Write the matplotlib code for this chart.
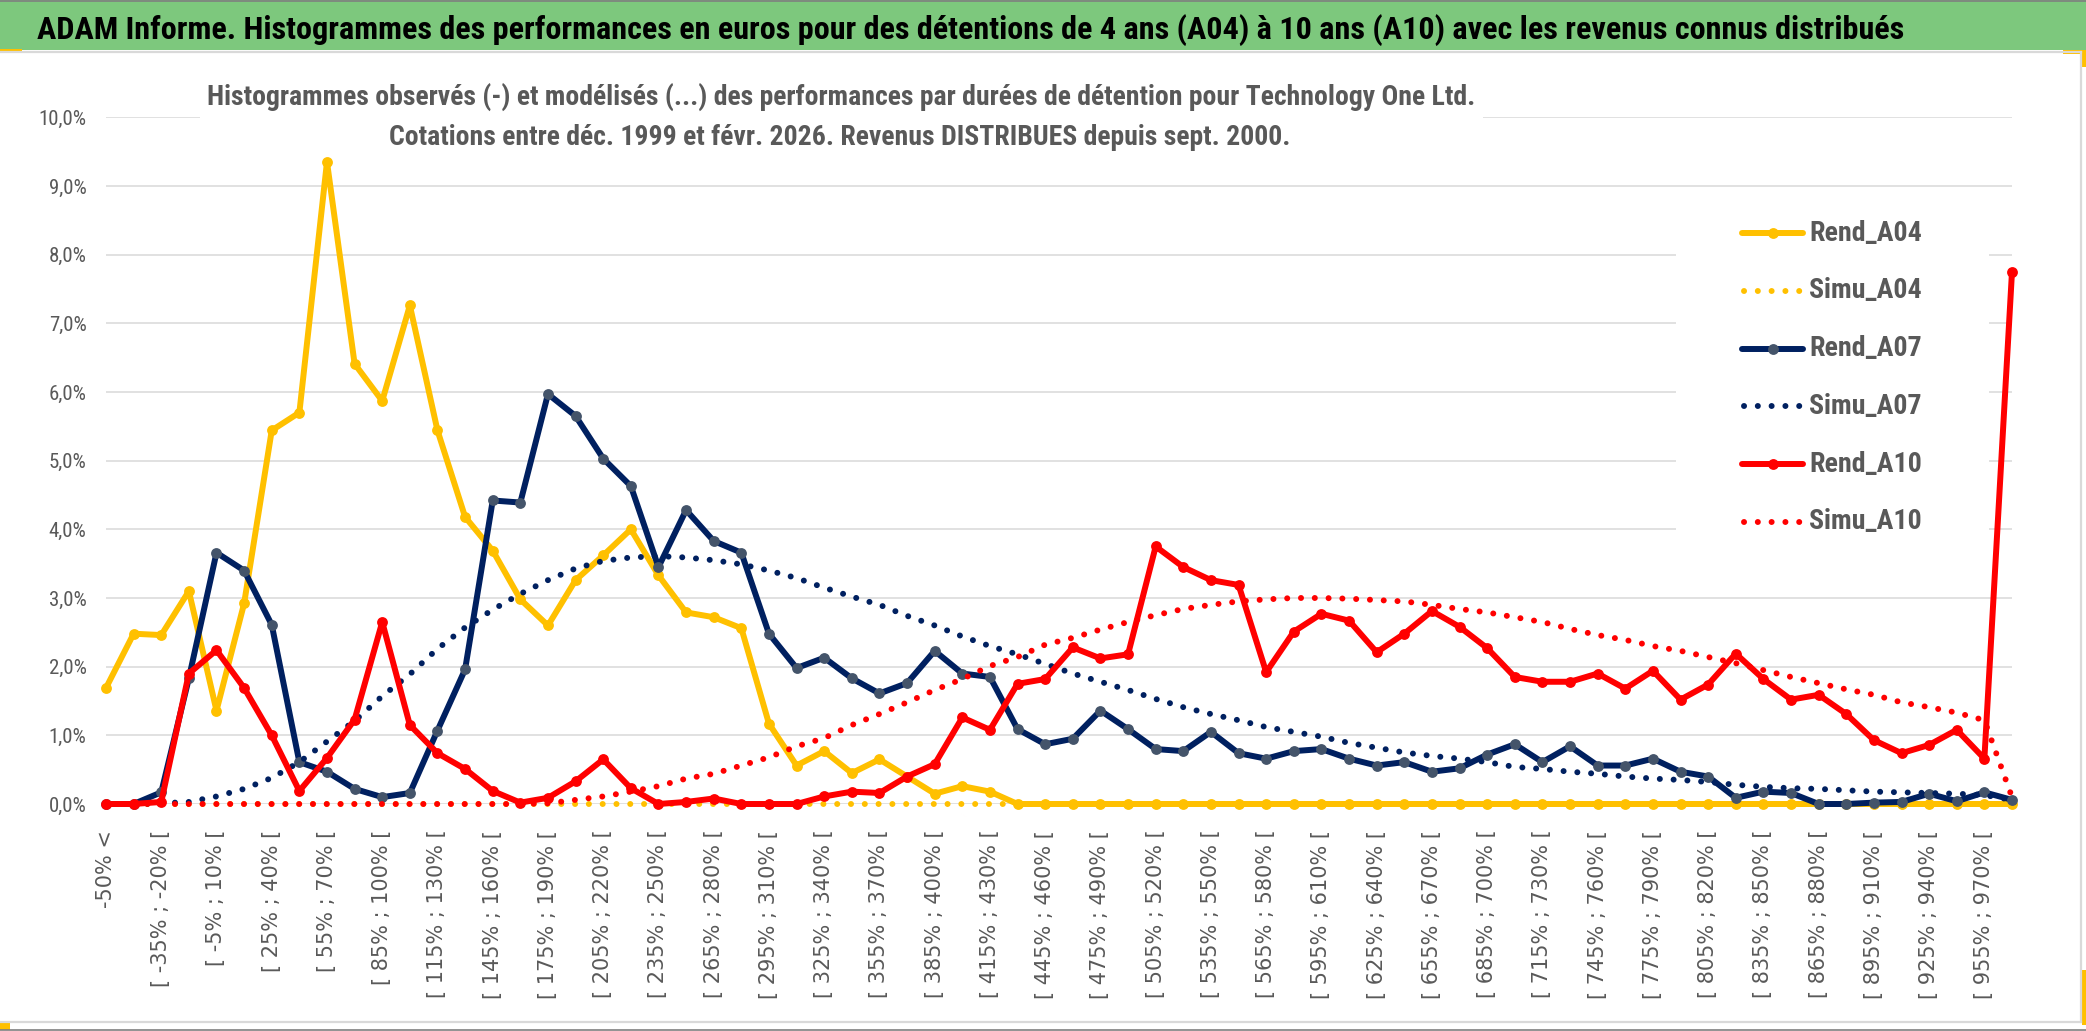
import matplotlib
matplotlib.use("Agg")
import matplotlib.pyplot as plt
from matplotlib.lines import Line2D
from matplotlib.patches import Rectangle

W, H, DPI = 2086, 1031, 100

# ---- data (% of observations per performance bin) ----
bin_lows = list(range(-50, 985, 15))          # lower edges of the 15%-wide bins
categories = ["-50% <"] + [f"[ {lo}% ; {lo + 15}% [" for lo in bin_lows]

rend_a04 = [1.69, 2.48, 2.46, 3.10, 1.36, 2.92, 5.44, 5.70, 9.35, 6.41,
            5.87, 7.26, 5.44, 4.18, 3.69, 2.98, 2.60, 3.26, 3.62, 4.00,
            3.33, 2.79, 2.72, 2.56, 1.17, 0.56, 0.77, 0.45, 0.65, 0.40,
            0.15, 0.26, 0.18, 0, 0, 0, 0, 0, 0, 0,
            0, 0, 0, 0, 0, 0, 0, 0, 0, 0,
            0, 0, 0, 0, 0, 0, 0, 0, 0, 0,
            0, 0, 0, 0, 0, 0, 0, 0, 0, 0]
simu_a04 = [0] * 70
rend_a07 = [0, 0, 0.17, 1.83, 3.66, 3.40, 2.61, 0.61, 0.47, 0.22,
            0.10, 0.16, 1.07, 1.96, 4.42, 4.39, 5.97, 5.65, 5.03, 4.63,
            3.45, 4.28, 3.83, 3.66, 2.48, 1.98, 2.13, 1.83, 1.61, 1.76,
            2.23, 1.90, 1.85, 1.09, 0.87, 0.95, 1.36, 1.09, 0.80, 0.77,
            1.05, 0.74, 0.66, 0.77, 0.80, 0.66, 0.56, 0.61, 0.47, 0.52,
            0.72, 0.87, 0.61, 0.84, 0.56, 0.56, 0.66, 0.47, 0.40, 0.09,
            0.18, 0.16, 0.0, 0.0, 0.02, 0.03, 0.15, 0.04, 0.17, 0.06]
simu_a07 = [0, 0, 0.01, 0.03, 0.11, 0.22, 0.38, 0.61, 0.91, 1.21,
            1.57, 1.89, 2.26, 2.57, 2.83, 3.06, 3.26, 3.43, 3.54, 3.59,
            3.61, 3.59, 3.55, 3.49, 3.40, 3.29, 3.15, 3.02, 2.90, 2.74,
            2.60, 2.44, 2.30, 2.18, 2.04, 1.90, 1.78, 1.66, 1.53, 1.41,
            1.31, 1.22, 1.12, 1.05, 0.98, 0.89, 0.82, 0.75, 0.70, 0.66,
            0.61, 0.54, 0.51, 0.47, 0.44, 0.40, 0.37, 0.35, 0.32, 0.28,
            0.25, 0.23, 0.22, 0.20, 0.18, 0.17, 0.16, 0.15, 0.13, 0.06]
rend_a10 = [0, 0, 0.03, 1.90, 2.24, 1.69, 1.00, 0.19, 0.67, 1.23,
            2.65, 1.15, 0.74, 0.51, 0.19, 0.02, 0.09, 0.33, 0.65, 0.23,
            0.0, 0.03, 0.08, 0.0, 0.0, 0.0, 0.11, 0.18, 0.16, 0.40,
            0.58, 1.26, 1.08, 1.75, 1.82, 2.28, 2.12, 2.18, 3.75, 3.45,
            3.26, 3.19, 1.92, 2.51, 2.77, 2.67, 2.21, 2.48, 2.81, 2.58,
            2.27, 1.85, 1.78, 1.78, 1.90, 1.68, 1.94, 1.52, 1.74, 2.19,
            1.82, 1.52, 1.59, 1.31, 0.93, 0.74, 0.86, 1.08, 0.66, 7.75]
simu_a10 = [0, 0, 0, 0, 0, 0, 0, 0, 0, 0,
            0, 0, 0, 0, 0, 0, 0.01, 0.06, 0.11, 0.18,
            0.26, 0.37, 0.44, 0.56, 0.68, 0.84, 0.96, 1.15, 1.31, 1.48,
            1.66, 1.82, 2.01, 2.14, 2.32, 2.42, 2.54, 2.65, 2.75, 2.84,
            2.90, 2.95, 2.98, 3.00, 3.00, 2.99, 2.97, 2.95, 2.90, 2.84,
            2.79, 2.72, 2.65, 2.55, 2.46, 2.39, 2.30, 2.23, 2.14, 2.05,
            1.95, 1.85, 1.76, 1.67, 1.59, 1.48, 1.41, 1.33, 1.22, 0.10]

YELLOW, NAVY, RED = "#FFC000", "#002060", "#FF0000"
NAVY_MK = "#44546A"
GREY_TXT = "#595959"
GRID = "#D9D9D9"
NARROW = ["Liberation Sans Narrow", "Roboto Condensed", "DejaVu Sans Condensed",
          "Open Sans Condensed", "Liberation Sans", "DejaVu Sans"]

series = [
    ("Rend_A04", rend_a04, YELLOW, YELLOW, True),
    ("Simu_A04", simu_a04, YELLOW, None, False),
    ("Rend_A07", rend_a07, NAVY, NAVY_MK, True),
    ("Simu_A07", simu_a07, NAVY, None, False),
    ("Rend_A10", rend_a10, RED, RED, True),
    ("Simu_A10", simu_a10, RED, None, False),
]

LW = 4.3
DOTS = (0, (0.01, 2.3))


def fx(x):
    return x / W


def fy(y):
    return 1 - y / H


fig = plt.figure(figsize=(W / DPI, H / DPI), dpi=DPI)
fig.patch.set_facecolor("white")

# plot area: first category at x=106px, last at 2012px; 0% at 804px, 10% at 117px
ax = fig.add_axes([fx(106), fy(804), fx(2012) - fx(106), fy(117.3) - fy(804)])
ax.set_facecolor("none")

x = list(range(len(categories)))
for i, (name, vals, col, mk, solid) in enumerate(series):
    if solid:
        ax.plot(x, vals, color=col, lw=LW, marker="o", markersize=7.8,
                markerfacecolor=mk, markeredgewidth=0, solid_joinstyle="round",
                clip_on=False, zorder=2 + i)
    else:
        ax.plot(x, vals, color=col, lw=LW, linestyle=DOTS, dash_capstyle="round",
                clip_on=False, zorder=2 + i)

ax.set_xlim(0, len(categories) - 1)
ax.set_ylim(0, 10)
ax.set_yticks(range(11))
ax.set_yticklabels([f"{v:.1f}%".replace(".", ",") for v in range(11)],
                   family=NARROW, stretch="condensed", fontsize=15, color=GREY_TXT)
ax.set_xticks(x[::2])
ax.set_xticklabels(categories[::2], rotation=90, va="top", ha="center",
                   family="DejaVu Sans", fontsize=15, color=GREY_TXT)
ax.set_xticks(x[::4], minor=True)
ax.tick_params(axis="x", which="both", length=0, pad=18.5)
ax.tick_params(axis="y", length=0, pad=14)
ax.set_axisbelow(True)
ax.yaxis.grid(True, color=GRID, lw=1.1)
ax.xaxis.grid(True, which="minor", color=GRID, lw=1.1)
ax.xaxis.grid(False, which="major")
for s in ax.spines.values():
    s.set_visible(False)

# white boxes behind subtitle and legend (hide gridlines)
ax.add_patch(Rectangle((fx(200), fy(160)), fx(1483) - fx(200), fy(100) - fy(160),
                       transform=fig.transFigure, facecolor="white", edgecolor="none",
                       zorder=1, clip_on=False))
ax.add_patch(Rectangle((fx(1676), fy(542)), fx(1989) - fx(1676), fy(201) - fy(542),
                       transform=fig.transFigure, facecolor="white", edgecolor="none",
                       zorder=1, clip_on=False))

# frame: green title band, borders and selection handles
fig.add_artist(Rectangle((0, fy(50)), 1, fy(0) - fy(50), transform=fig.transFigure,
                         facecolor="#7DC87D", edgecolor="none", zorder=0))
fig.add_artist(Line2D([0, 1], [fy(0.8)] * 2, color="#7F7F7F", lw=1.2))
fig.add_artist(Line2D([0, fx(2081)], [fy(52)] * 2, color=GRID, lw=1.6))
fig.add_artist(Line2D([fx(2081)] * 2, [fy(52), fy(1022)], color=GRID, lw=1.6))
fig.add_artist(Line2D([0, fx(2081)], [fy(1022)] * 2, color=GRID, lw=1.6))
fig.add_artist(Line2D([0, 1], [fy(1029.5)] * 2, color="#7F7F7F", lw=1.2))
for (x0, y0, x1, y1) in [(0, 49, 22, 53), (0, 1023, 10, 1030),
                         (2063, 50, 2086, 54), (2082, 50, 2086, 67),
                         (2082, 970, 2086, 1025)]:
    fig.add_artist(Rectangle((fx(x0), fy(y1)), fx(x1) - fx(x0), fy(y0) - fy(y1),
                             transform=fig.transFigure, facecolor=YELLOW,
                             edgecolor="none"))

# texts
title = fig.text(fx(37), fy(39),
                 "ADAM Informe. Histogrammes des performances en euros pour des détentions "
                 "de 4 ans (A04) à 10 ans (A10) avec les revenus connus distribués",
                 ha="left", va="baseline", family=NARROW, stretch="condensed",
                 fontweight="bold", fontsize=22, color="black")
sub1 = fig.text(fx(841), fy(105),
                "Histogrammes observés (-) et modélisés (...) des performances par durées "
                "de détention pour Technology One Ltd.",
                ha="center", va="baseline", family=NARROW, stretch="condensed",
                fontweight="bold", fontsize=15, color=GREY_TXT)
sub2 = fig.text(fx(840), fy(145),
                "Cotations entre déc. 1999 et févr. 2026. Revenus DISTRIBUES depuis sept. 2000.",
                ha="center", va="baseline", family=NARROW, stretch="condensed",
                fontweight="bold", fontsize=15, color=GREY_TXT)

# manual legend
leg_texts = []
for k, (name, vals, col, mk, solid) in enumerate(series):
    yc = fy(233 + 57.8 * k)
    if solid:
        fig.add_artist(Line2D([fx(1742), fx(1772.5), fx(1803)], [yc] * 3, color=col,
                              lw=LW, marker="o", markersize=7.8, markevery=[1],
                              markerfacecolor=mk, markeredgewidth=0,
                              solid_capstyle="round"))
    else:
        fig.add_artist(Line2D([fx(1744), fx(1800)], [yc] * 2, color=col, lw=LW,
                              linestyle=DOTS, dash_capstyle="round"))
    leg_texts.append(fig.text(fx(1809), yc, name, ha="left", va="center",
                              family=NARROW, stretch="condensed", fontweight="bold",
                              fontsize=18, color=GREY_TXT))


def fit(texts, target_px):
    for _ in range(2):
        fig.canvas.draw()
        r = fig.canvas.get_renderer()
        w = texts[0].get_window_extent(r).width
        fs = texts[0].get_fontsize() * target_px / w
        for t in texts:
            t.set_fontsize(fs)


fit([title], 1866)
fit([sub1, sub2], 1270)
fit(leg_texts, 113)

fig.savefig("out.png", dpi=DPI, facecolor="white")
